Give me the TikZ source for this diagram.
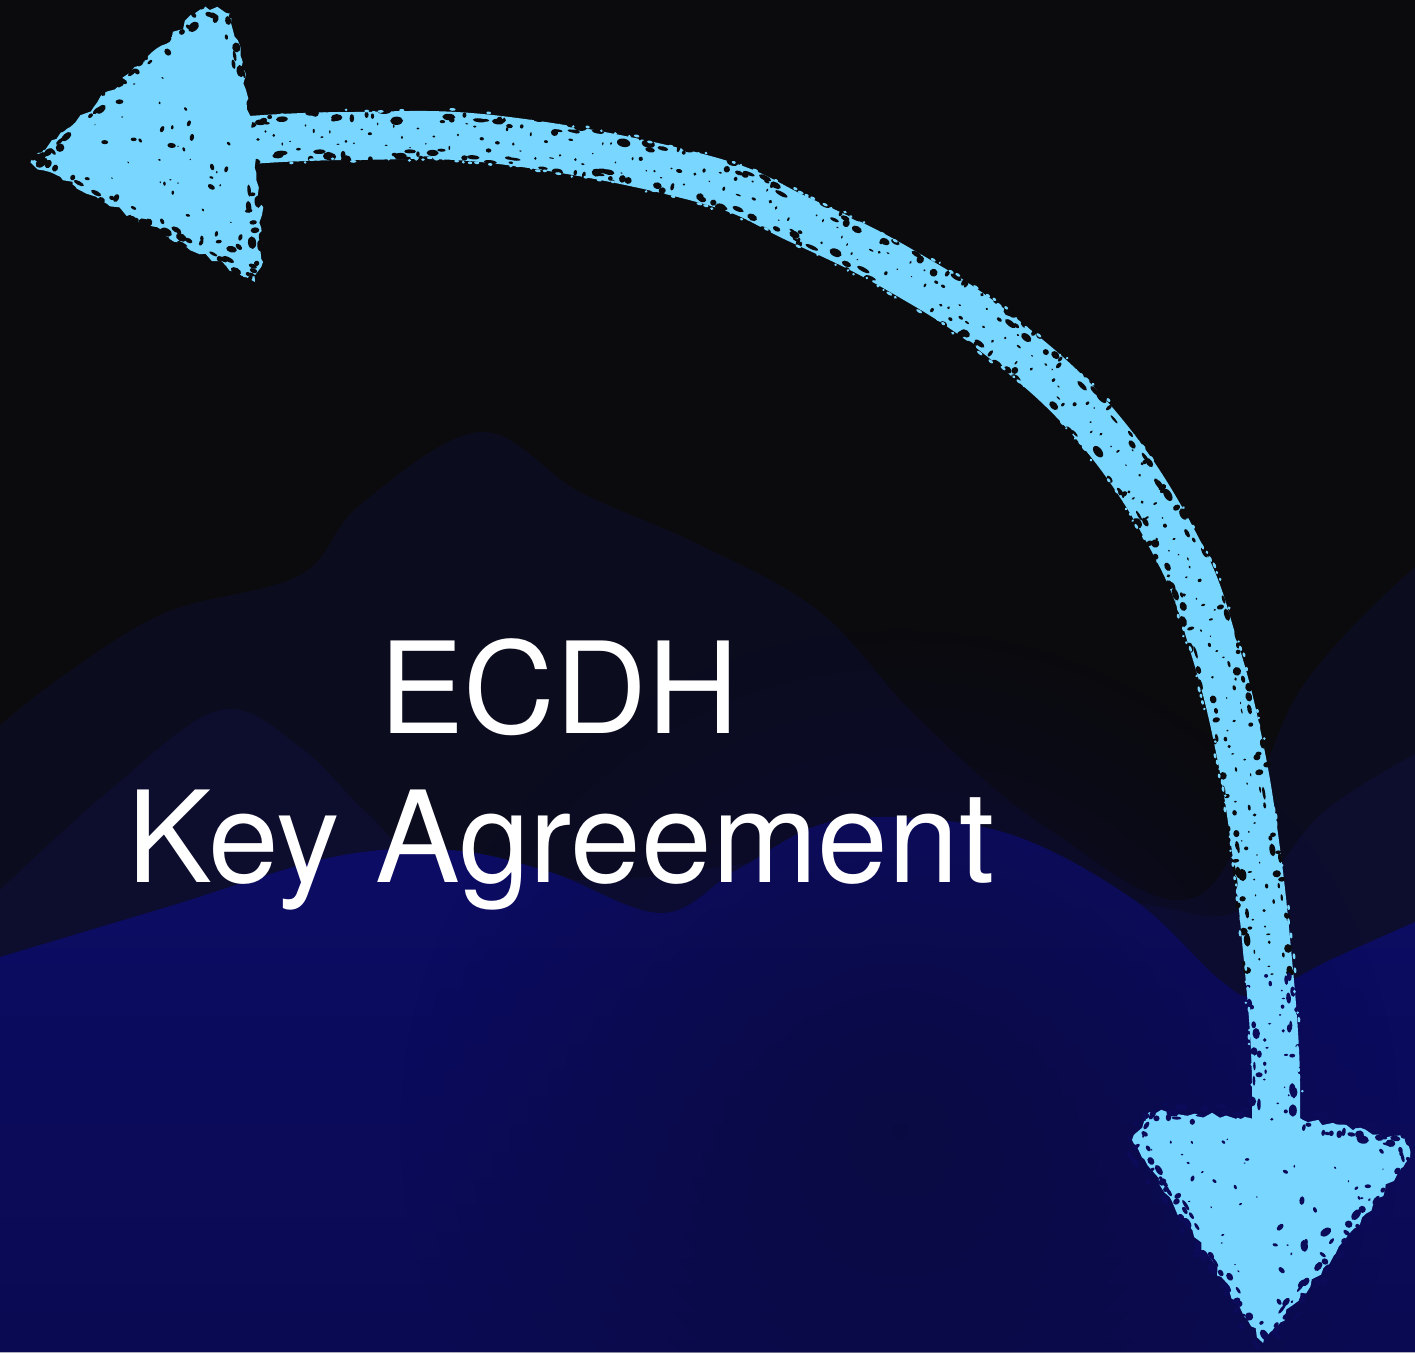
\documentclass[tikz,border=0pt]{standalone}
\usepackage{fontspec}
\setmainfont{TeX Gyre Heros}
\usetikzlibrary{decorations.markings,decorations.pathmorphing,fadings}

\definecolor{nightsky}{HTML}{0B0B0E}
\definecolor{hillfar}{HTML}{0C0C1F}
\definecolor{hillmid}{HTML}{0D0D2E}
\definecolor{hilltop}{HTML}{0C0C66}
\definecolor{hillbase}{HTML}{0A0A52}
\definecolor{hollow}{HTML}{0A0A3E}
\definecolor{chalkblue}{HTML}{78D6FF}
\definecolor{holenavy}{HTML}{0B0B5A}

\tikzfading[name=blobfade, inner color=transparent!0, outer color=transparent!100]

\tikzset{
  title/.style={anchor=base, text=white, inner sep=0pt, font=\fontsize{31.75}{37.5}\selectfont},
  shaft/.style={draw=chalkblue, line width=12pt, line cap=round},
  headfill/.style={fill=chalkblue, decorate, decoration={random steps, segment length=1.75pt, amplitude=.75pt}},
  rim bites/.style n args={3}{postaction={decorate, decoration={markings,
    mark=between positions #2 and #3 step .75pt with {
      \pgfmathtruncatemacro\keep{rnd<0.55 ? 1 : 0}
      \pgfmathsetmacro\bs{rand<0 ? -1 : 1}
      \pgfmathsetmacro\bo{\bs*(3.6+2.6*rnd)}
      \pgfmathsetmacro\bx{0.4+1.3*rnd}
      \pgfmathsetmacro\by{0.3+0.75*rnd}
      \ifnum\keep=1 \fill[#1] (0pt,\bo pt) circle[x radius=\bx pt, y radius=\by pt];\fi
    }}}},
  specks/.style n args={3}{postaction={decorate, decoration={markings,
    mark=between positions #2 and #3 step 2pt with {
      \pgfmathsetmacro\bo{3.5*rand}
      \pgfmathsetmacro\bx{0.2+0.7*rnd*rnd}
      \pgfmathsetmacro\by{0.15+0.4*rnd}
      \fill[#1] (0pt,\bo pt) circle[x radius=\bx pt, y radius=\by pt];
    }}}},
  flecks/.style={postaction={decorate, decoration={markings,
    mark=between positions 0.02 and 0.98 step 1.75pt with {
      \pgfmathsetmacro\bs{rand<0 ? -1 : 1}
      \pgfmathsetmacro\bo{\bs*(5.6+rnd)}
      \pgfmathsetmacro\bx{0.25+0.6*rnd}
      \fill[chalkblue] (0pt,\bo pt) circle[x radius=\bx pt, y radius=.35pt];
    }}}},
  edge bites/.style={postaction={decorate, decoration={markings,
    mark=between positions 0 and 1 step 1pt with {
      \pgfmathtruncatemacro\keep{rnd<0.8 ? 1 : 0}
      \pgfmathsetmacro\bo{2.5*rand}
      \pgfmathsetmacro\bx{0.4+1.2*rnd}
      \pgfmathsetmacro\by{0.3+0.8*rnd}
      \ifnum\keep=1 \fill[#1] (0pt,\bo pt) circle[x radius=\bx pt, y radius=\by pt];\fi
    }}}},
}

\begin{document}
\begin{tikzpicture}[x=.25pt,y=-.25pt]
	\pgfmathsetseed{42}
	\clip (0,0) rectangle (1415,1352);
	\fill[nightsky] (0,0) rectangle (1415,1352);
	% hills, back to front
	\fill[hillfar] plot[smooth, tension=.6] coordinates {(0,725) (67,673) (167,612) (300,575) (360,505) (480,432) (580,492) (700,545) (820,612) (920,720) (1050,830) (1200,895) (1300,690) (1415,567)} -- (1415,1352) -- (0,1352) -- cycle;
	\fill[hillmid] plot[smooth, tension=.6] coordinates {(0,890) (110,790) (220,710) (300,747) (367,813) (430,860) (600,880) (800,860) (1000,880) (1150,905) (1240,910) (1320,815) (1415,754)} -- (1415,1352) -- (0,1352) -- cycle;
	\shade[top color=hilltop, bottom color=hillbase] plot[smooth, tension=.6] coordinates {(0,957) (167,907) (333,857) (450,850) (550,872) (662,913) (740,868) (840,820) (996,830) (1130,897) (1220,980) (1258,995) (1330,960) (1415,922)} -- (1415,1352) -- (0,1352) -- cycle;
	\fill[hollow, path fading=blobfade, opacity=.8] (900,1130) circle (500);

	\node[title] (ecdh) at (559,733) {ECDH};
	\node[title] (keyagr) at (561,882) {Key Agreement};

	% chalk arrow
	\coordinate (lefttip) at (30,162);
	\coordinate (lefttop) at (205,6);
	\coordinate (leftbot) at (255,282);
	\coordinate (downtip) at (1263,1343);
	\coordinate (downleft) at (1132,1140);
	\coordinate (downright) at (1410,1158);

	\draw[shaft, rim bites={nightsky}{0}{0.91}, rim bites={holenavy}{0.91}{1}, specks={nightsky}{0}{0.91}, specks={holenavy}{0.91}{1}, flecks]
		plot[smooth, tension=.7] coordinates {(250,140) (350,136) (500,140) (700,178) (800,220) (900,270) (1000,336) (1100,430) (1178,550) (1215,650) (1240,750) (1256,850) (1267,950) (1275,1050) (1276,1125)};

	\fill[headfill] (lefttip) -- (lefttop) -- (232,14) -- (246,90) -- (252,140) -- (262,215) -- (263,262) -- (leftbot) -- cycle;
	\path[edge bites=nightsky] (lefttip) -- (lefttop) -- (232,14) -- (246,90);
	\path[edge bites=nightsky] (255,190) -- (263,262) -- (leftbot) -- (lefttip);
	\foreach \k in {1,...,45}{
		\pgfmathsetmacro\ua{rnd}
		\pgfmathsetmacro\ub{rnd}
		\pgfmathsetmacro\uc{(\ua+\ub>1) ? 1-\ua : \ua}
		\pgfmathsetmacro\ud{(\ua+\ub>1) ? 1-\ub : \ub}
		\pgfmathsetmacro\px{30+\uc*175+\ud*225}
		\pgfmathsetmacro\py{162-\uc*156+\ud*120}
		\pgfmathsetmacro\ur{0.2+1.4*rnd*rnd}
		\pgfmathsetmacro\vr{0.6*\ur}
		\pgfmathsetmacro\ang{180*rnd}
		\fill[nightsky] (\px,\py) circle[x radius=\ur pt, y radius=\vr pt, rotate=\ang];
	}

	\fill[headfill] (downleft) -- (1150,1112) -- (1250,1118) -- (1303,1120) -- (1405,1138) -- (downright) -- (downtip) -- cycle;
	\path[edge bites=holenavy] (downleft) -- (1150,1112) -- (1245,1116);
	\path[edge bites=holenavy] (1305,1121) -- (1405,1138) -- (downright) -- (downtip) -- (downleft);
	\foreach \k in {1,...,45}{
		\pgfmathsetmacro\ua{rnd}
		\pgfmathsetmacro\ub{rnd}
		\pgfmathsetmacro\uc{(\ua+\ub>1) ? 1-\ua : \ua}
		\pgfmathsetmacro\ud{(\ua+\ub>1) ? 1-\ub : \ub}
		\pgfmathsetmacro\px{1140+\uc*262+\ud*123}
		\pgfmathsetmacro\py{1135+\uc*13+\ud*200}
		\pgfmathsetmacro\ur{0.2+1.4*rnd*rnd}
		\pgfmathsetmacro\vr{0.6*\ur}
		\pgfmathsetmacro\ang{180*rnd}
		\fill[holenavy] (\px,\py) circle[x radius=\ur pt, y radius=\vr pt, rotate=\ang];
	}
\end{tikzpicture}
\end{document}
